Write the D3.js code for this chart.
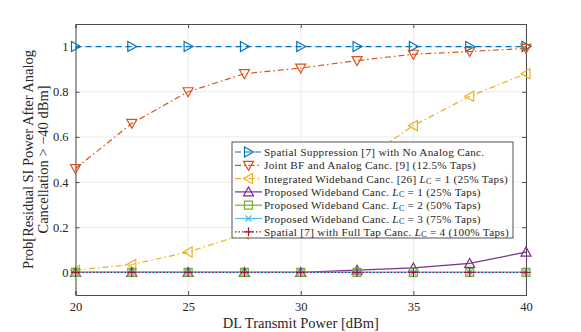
<!DOCTYPE html>
<html>
<head>
<meta charset="utf-8">
<script src="https://cdn.jsdelivr.net/npm/d3@7"></script>
<style>
  body { margin: 0; background: #fff; }
  svg text { font-family: "Liberation Serif", "DejaVu Serif", serif; fill: #262626; }
</style>
</head>
<body>
<div id="chart"></div>
<script>
{ // start block scope

  // data
  const powers = [20, 22.5, 25, 27.5, 30, 32.5, 35, 37.5, 40];
  const spatialNoAnalog = [1, 1, 1, 1, 1, 1, 1, 1, 1];
  const jointBF = [0.46, 0.66, 0.80, 0.88, 0.905, 0.938, 0.966, 0.978, 0.992];
  const integratedWB = [0.01, 0.035, 0.09, 0.17, 0.32, 0.48, 0.65, 0.78, 0.88];
  const proposedL1 = [0, 0, 0, 0, 0, 0.01, 0.02, 0.04, 0.09];
  const proposedL2 = [0, 0, 0, 0, 0, 0, 0, 0, 0];
  const proposedL3 = [0, 0, 0, 0, 0, 0, 0, 0, 0];
  const spatialFull = [0, 0, 0, 0, 0, 0, 0, 0, 0];
  const xTicks = [20, 25, 30, 35, 40];
  const yTicks = [0, 0.2, 0.4, 0.6, 0.8, 1];

  const series = [
    { label: ['Spatial Suppression [7] with No Analog Canc.'], values: spatialNoAnalog, color: '#0072BD', dash: '6,4', marker: 'right' },
    { label: ['Joint BF and Analog Canc. [9] (12.5% Taps)'], values: jointBF, color: '#D95319', dash: '6,3,1.5,3', marker: 'down' },
    { label: ['Integrated Wideband Canc. [26] ', 'L', 'C', ' = 1 (25% Taps)'], values: integratedWB, color: '#EDB120', dash: '6,3,1.5,3', marker: 'left' },
    { label: ['Proposed Wideband Canc. ', 'L', 'C', ' = 1 (25% Taps)'], values: proposedL1, color: '#7E2F8E', dash: null, marker: 'up' },
    { label: ['Proposed Wideband Canc. ', 'L', 'C', ' = 2 (50% Taps)'], values: proposedL2, color: '#77AC30', dash: null, marker: 'square' },
    { label: ['Proposed Wideband Canc. ', 'L', 'C', ' = 3 (75% Taps)'], values: proposedL3, color: '#4DBEEE', dash: null, marker: 'x' },
    { label: ['Spatial [7] with Full Tap Canc. ', 'L', 'C', ' = 4 (100% Taps)'], values: spatialFull, color: '#A2142F', dash: '1.5,2', marker: 'plus' }
  ];

  // constants
  const totalWidth = 581;
  const totalHeight = 332;
  const margin = { top: 24, left: 75.5, bottom: 37, right: 55 };
  const width = totalWidth - margin.left - margin.right;
  const height = totalHeight - margin.top - margin.bottom;
  const serif = '"Liberation Serif", "DejaVu Serif", serif';

  const svg = d3.select('#chart')
    .append('svg')
    .attr('width', totalWidth)
    .attr('height', totalHeight)
    .attr('font-family', serif);

  const g = svg.append('g')
    .attr('transform', `translate(${margin.left}, ${margin.top})`);

  // scales
  const xScale = d3.scaleLinear().domain([20, 40]).range([0, width]);
  const yScale = d3.scaleLinear().domain([-0.1, 1.1]).range([height, 0]);

  // grid
  g.append('g').selectAll('line')
    .data(xTicks)
    .enter().append('line')
    .attr('x1', d => xScale(d)).attr('x2', d => xScale(d))
    .attr('y1', 0).attr('y2', height)
    .attr('stroke', '#e6e6e6').attr('stroke-width', 0.8);
  g.append('g').selectAll('line')
    .data(yTicks)
    .enter().append('line')
    .attr('x1', 0).attr('x2', width)
    .attr('y1', d => yScale(d)).attr('y2', d => yScale(d))
    .attr('stroke', '#e6e6e6').attr('stroke-width', 0.8);

  // axes
  const axisColor = '#4d4d4d';
  const xAxis = g.append('g')
    .attr('transform', `translate(0, ${height})`)
    .call(d3.axisBottom(xScale).tickValues(xTicks).tickSize(-4).tickPadding(7).tickFormat(d3.format('d')));
  const xAxisTop = g.append('g')
    .call(d3.axisTop(xScale).tickValues(xTicks).tickSize(-4).tickFormat(''));
  const yAxis = g.append('g')
    .call(d3.axisLeft(yScale).tickValues(yTicks).tickSize(-4).tickPadding(7).tickFormat(d => d === 0 || d === 1 ? d : d3.format('.1f')(d)));
  const yAxisRight = g.append('g')
    .attr('transform', `translate(${width}, 0)`)
    .call(d3.axisRight(yScale).tickValues(yTicks).tickSize(-4).tickFormat(''));
  [xAxis, xAxisTop, yAxis, yAxisRight].forEach(a => {
    a.attr('font-family', serif);
    a.select('.domain').attr('stroke', axisColor).attr('stroke-width', 1);
    a.selectAll('.tick line').attr('stroke', axisColor);
    a.selectAll('.tick text')
      .attr('font-size', 12.5)
      .attr('fill', '#262626');
  });

  // axis labels
  svg.append('text')
    .attr('x', margin.left + width / 2)
    .attr('y', 328)
    .attr('text-anchor', 'middle')
    .attr('font-size', 14.5)
    .text('DL Transmit Power [dBm]');
  const yLabel = svg.append('text')
    .attr('transform', `translate(33, ${margin.top + height / 2}) rotate(-90)`)
    .attr('text-anchor', 'middle')
    .attr('font-size', 14.5);
  yLabel.append('tspan').attr('x', 0).attr('y', 0).text('Prob[Residual SI Power After Analog');
  yLabel.append('tspan').attr('x', 0).attr('y', 15).text('Cancellation > \u221240 dBm]');

  // markers
  function drawMarker(sel, type, color) {
    const r = 5;
    const p = sel.append('path')
      .attr('fill', 'none')
      .attr('stroke', color)
      .attr('stroke-width', 1.2);
    if (type === 'right') p.attr('d', `M${-r * 0.8},${-r}L${r},0L${-r * 0.8},${r}Z`);
    else if (type === 'left') p.attr('d', `M${r * 0.8},${-r}L${-r},0L${r * 0.8},${r}Z`);
    else if (type === 'down') p.attr('d', `M${-r},${-r * 0.8}L${r},${-r * 0.8}L0,${r}Z`);
    else if (type === 'up') p.attr('d', `M${-r},${r * 0.8}L${r},${r * 0.8}L0,${-r}Z`);
    else if (type === 'square') p.attr('d', `M-4,-4H4V4H-4Z`);
    else if (type === 'x') p.attr('d', `M-3,-3L3,3M-3,3L3,-3`);
    else if (type === 'plus') p.attr('d', `M-4.5,0H4.5M0,-4.5V4.5`);
  }

  // lines
  const line = d3.line()
    .x((d, i) => xScale(powers[i]))
    .y(d => yScale(d));
  series.forEach(s => {
    g.append('path')
      .datum(s.values)
      .attr('d', line)
      .attr('fill', 'none')
      .attr('stroke', s.color)
      .attr('stroke-width', 1.2)
      .attr('stroke-dasharray', s.dash);
    g.append('g').selectAll('g')
      .data(s.values)
      .enter().append('g')
      .attr('transform', (d, i) => `translate(${xScale(powers[i])}, ${yScale(d)})`)
      .each(function () { drawMarker(d3.select(this), s.marker, s.color); });
  });

  // legend
  const legend = svg.append('g').attr('transform', 'translate(232, 142)');
  legend.append('rect')
    .attr('width', 281).attr('height', 96)
    .attr('fill', '#fff').attr('stroke', '#262626').attr('stroke-width', 0.8);
  series.forEach((s, i) => {
    const y = 10 + i * 13.3;
    const row = legend.append('g').attr('transform', `translate(0, ${y})`);
    row.append('line')
      .attr('x1', 3).attr('x2', 30).attr('y1', 0).attr('y2', 0)
      .attr('stroke', s.color).attr('stroke-width', 1.2)
      .attr('stroke-dasharray', s.dash);
    const m = row.append('g').attr('transform', 'translate(16.5, 0)');
    drawMarker(m, s.marker, s.color);
    const t = row.append('text')
      .attr('x', 32).attr('y', 4)
      .attr('font-size', 11.2)
      .attr('letter-spacing', 0.3);
    t.append('tspan').text(s.label[0]);
    if (s.label.length > 1) {
      t.append('tspan').attr('font-style', 'italic').text(s.label[1]);
      t.append('tspan').attr('font-size', 8).attr('dy', 1.5).text(s.label[2]);
      t.append('tspan').attr('dy', -1.5).text(s.label[3]);
    }
  });

} // end block scope
</script>
</body>
</html>
